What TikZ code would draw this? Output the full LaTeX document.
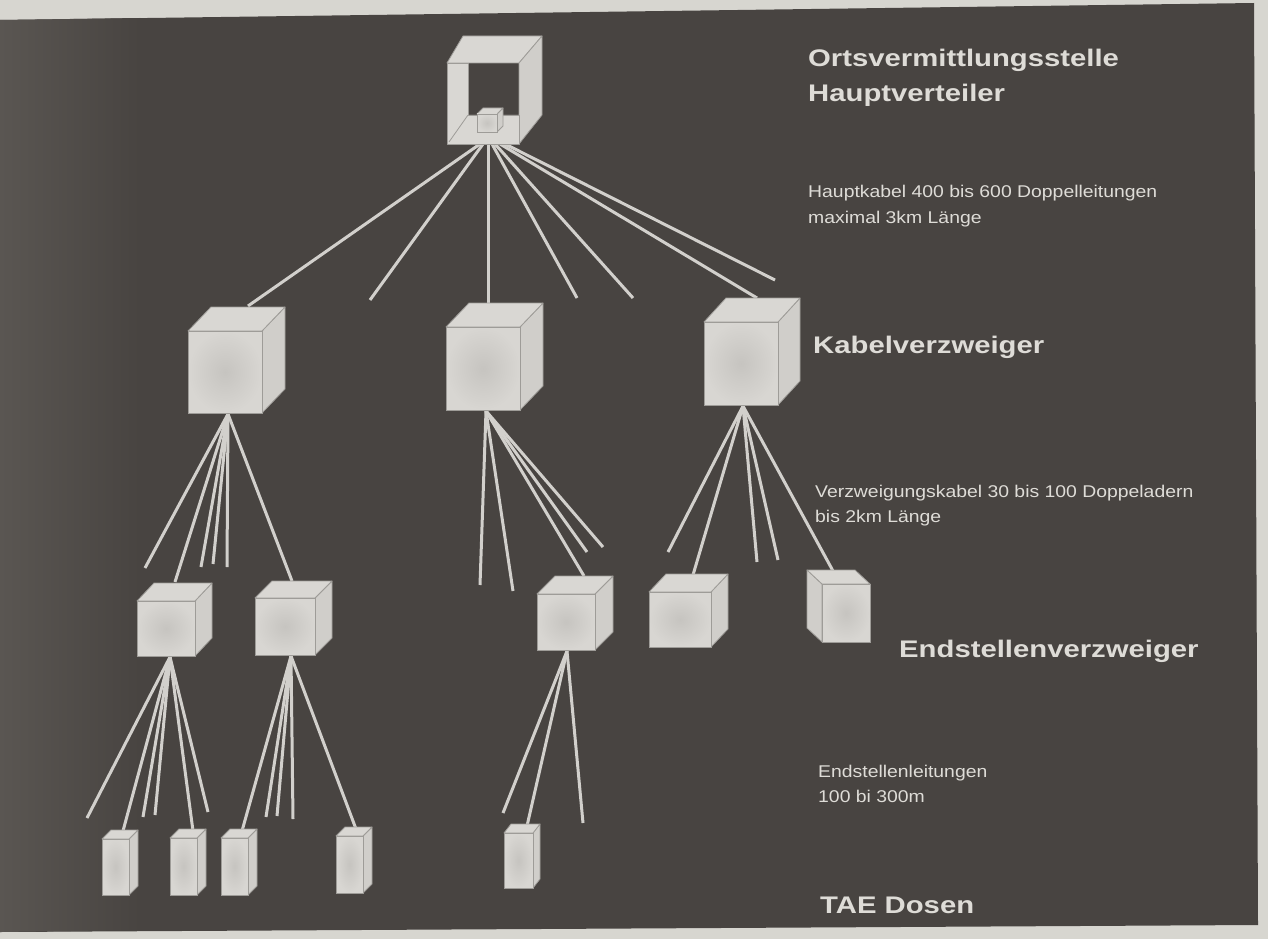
\documentclass[tikz,border=0pt]{standalone}
\usepackage{fontspec}
\setmainfont{Liberation Sans}
\newfontfamily\headf{Liberation Sans}[FakeStretch=1.22]
\newfontfamily\bodyf{Liberation Sans}[FakeStretch=1.14]
\definecolor{pagec}{HTML}{D7D6D0}
\definecolor{panelc}{HTML}{484441}
\definecolor{panell}{HTML}{5A5652}
\definecolor{cablec}{HTML}{D2D0CC}
\definecolor{facec}{HTML}{D8D6D2}
\definecolor{facein}{HTML}{C6C4C0}
\definecolor{sidec}{HTML}{D0CECA}
\definecolor{topcc}{HTML}{D9D7D3}
\definecolor{edgec}{HTML}{9E9C98}
\definecolor{txtc}{HTML}{DEDCD7}
\tikzset{
  cable/.style={draw=cablec, line width=3pt},
  sidef/.style={fill=sidec, draw=edgec, line width=0.8pt, line join=round},
  topf/.style={fill=topcc, draw=edgec, line width=0.8pt, line join=round},
  frontf/.style={inner color=facein, outer color=facec, draw=edgec, line width=0.8pt},
  head/.style={text=txtc, font=\headf\bfseries\fontsize{24}{28}\selectfont, inner sep=0pt, anchor=base west},
  body/.style={text=txtc, font=\bodyf\fontsize{17}{20}\selectfont, inner sep=0pt, anchor=base west}
}
% right-side cube: front (x1,y1)-(x2,y2), depth (dx,dy)
\newcommand{\drawcube}[6]{%
  \filldraw[sidef] (#3,#2) -- ++(#5,#6) -- ++(0,#4-#2) -- (#3,#4) -- cycle;
  \filldraw[topf] (#1,#2) -- ++(#5,#6) -- ++(#3-#1,0) -- (#3,#2) -- cycle;
  \shadedraw[frontf] (#1,#2) rectangle (#3,#4);
}
% left-side cube
\newcommand{\drawcubeL}[6]{%
  \filldraw[sidef] (#1,#2) -- ++(#5,#6) -- ++(0,#4-#2) -- (#1,#4) -- cycle;
  \filldraw[topf] (#1,#2) -- ++(#5,#6) -- ++(#3-#1,0) -- (#3,#2) -- cycle;
  \shadedraw[frontf] (#1,#2) rectangle (#3,#4);
}
\begin{document}
\begin{tikzpicture}[x=1pt,y=-1pt]
\useasboundingbox (0,0) rectangle (1268,939);
\fill[pagec] (0,0) rectangle (1268,939);
\fill[panelc] (0,20) -- (1254,3) -- (1258,925) -- (0,932) -- cycle;
\shade[left color=panell, right color=panelc] (0,20) -- (140,18) -- (140,930) -- (0,932) -- cycle;

% hub and end coordinates
\coordinate (HV) at (488,144);
\coordinate (KV1t) at (248,306);
\coordinate (KV2t) at (488,304);
\coordinate (KV3t) at (757,298);
\coordinate (f1) at (370,300);
\coordinate (f2) at (577,298);
\coordinate (f3) at (633,298);
\coordinate (f4) at (775,280);

\coordinate (KV1) at (228,414);
\coordinate (KV2) at (486,411);
\coordinate (KV3) at (743,406);
\coordinate (EV1t) at (175,582);
\coordinate (EV2t) at (292,581);
\coordinate (EV3t) at (584,576);
\coordinate (EV4t) at (693,575);
\coordinate (EV5t) at (833,571);
\coordinate (g1) at (145,568);
\coordinate (g2) at (201,567);
\coordinate (g3) at (213,564);
\coordinate (g4) at (227,567);
\coordinate (g5) at (480,585);
\coordinate (g6) at (513,591);
\coordinate (g7) at (587,552);
\coordinate (g8) at (603,547);
\coordinate (g9) at (668,552);
\coordinate (g10) at (757,562);
\coordinate (g11) at (778,560);

\coordinate (EV1) at (170,657);
\coordinate (EV2) at (291,656);
\coordinate (EV3) at (567,651);
\coordinate (T1t) at (123,831);
\coordinate (T2t) at (193,831);
\coordinate (T3t) at (242,831);
\coordinate (T4t) at (356,829);
\coordinate (T5t) at (527,826);
\coordinate (h1) at (87,818);
\coordinate (h2) at (143,817);
\coordinate (h3) at (155,815);
\coordinate (h4) at (208,812);
\coordinate (h5) at (266,817);
\coordinate (h6) at (277,816);
\coordinate (h7) at (293,819);
\coordinate (h8) at (503,813);
\coordinate (h9) at (583,823);

% main cables
\draw[cable] ([xshift=-8pt]HV) -- (KV1t);
\draw[cable] ([xshift=-5pt]HV) -- (f1);
\draw[cable] (HV) -- (KV2t);
\draw[cable] ([xshift=4pt]HV) -- (f2);
\draw[cable] ([xshift=7pt]HV) -- (f3);
\draw[cable] ([xshift=12pt]HV) -- (KV3t);
\draw[cable] ([xshift=17pt]HV) -- (f4);
% branch cables
\foreach \e in {g1,EV1t,g2,g3,g4,EV2t} \draw[cable] (KV1) -- (\e);
\foreach \e in {g5,g6,EV3t,g7,g8} \draw[cable] (KV2) -- (\e);
\foreach \e in {g9,EV4t,g10,g11,EV5t} \draw[cable] (KV3) -- (\e);
% end lines
\foreach \e in {h1,T1t,h2,h3,T2t,h4} \draw[cable] (EV1) -- (\e);
\foreach \e in {T3t,h5,h6,h7,T4t} \draw[cable] (EV2) -- (\e);
\foreach \e in {h8,T5t,h9} \draw[cable] (EV3) -- (\e);

% Hauptverteiler (open box)
\filldraw[topf] (447,63) -- (463,36) -- (542,36) -- (519,63) -- cycle;
\filldraw[sidef] (519,63) -- (542,36) -- (542,115) -- (519,144) -- cycle;
\filldraw[topf] (447,63) -- (468,63) -- (468,115) -- (519,115) -- (519,144) -- (447,144) -- cycle;
\draw[edgec, line width=0.8pt] (449,142) -- (468,115);
\drawcube{477}{114}{497}{132}{6}{-6}

% Kabelverzweiger
\drawcube{188}{331}{262}{413}{23}{-24}
\drawcube{446}{327}{520}{410}{23}{-24}
\drawcube{704}{322}{778}{405}{22}{-24}
% Endstellenverzweiger
\drawcube{137}{601}{195}{656}{17}{-18}
\drawcube{255}{598}{315}{655}{17}{-17}
\drawcube{537}{594}{595}{650}{18}{-18}
\drawcube{649}{592}{711}{647}{17}{-18}
\drawcubeL{822}{584}{870}{642}{-15}{-14}
% TAE Dosen
\drawcube{102}{839}{129}{895}{9}{-9}
\drawcube{170}{838}{197}{895}{9}{-9}
\drawcube{221}{838}{248}{895}{9}{-9}
\drawcube{336}{836}{363}{893}{9}{-9}
\drawcube{504}{833}{533}{888}{7}{-9}

% labels
\node[head] (l1) at (808,67) {Ortsvermittlungsstelle};
\node[head] (l2) at (808,102) {Hauptverteiler};
\node[body] (l3) at (808,197) {Hauptkabel 400 bis 600 Doppelleitungen};
\node[body] (l4) at (808,223) {maximal 3km Länge};
\node[head] (l5) at (813,353) {Kabelverzweiger};
\node[body] (l6) at (815,497) {Verzweigungskabel 30 bis 100 Doppeladern};
\node[body] (l7) at (815,522) {bis 2km Länge};
\node[head] (l8) at (899,657) {Endstellenverzweiger};
\node[body] (l9) at (818,777) {Endstellenleitungen};
\node[body] (l10) at (818,802) {100 bi 300m};
\node[head] (l11) at (820,913) {TAE Dosen};
\end{tikzpicture}
\end{document}
